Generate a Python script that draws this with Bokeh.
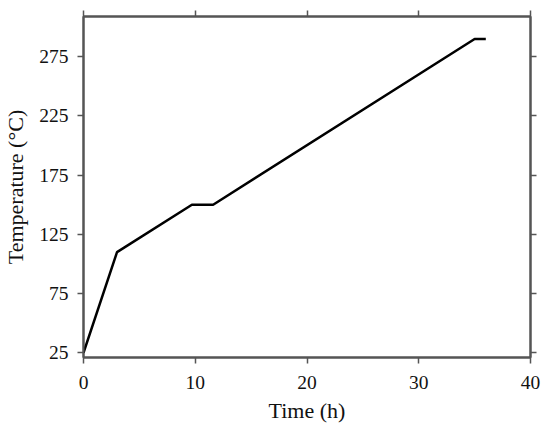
from bokeh.plotting import figure
from bokeh.models import LinearAxis, FixedTicker, Range1d
from bokeh.embed import file_html
from bokeh.resources import INLINE

time_h = [0, 3, 9.7, 11.6, 35, 36]
temp_c = [25, 110, 150, 150, 290, 290]
x_ticks = [0, 10, 20, 30, 40]
y_ticks = [25, 75, 125, 175, 225, 275]

FONT = "Liberation Serif"
AX = "#555555"

p = figure(width=545, height=425, output_backend="svg", toolbar_location=None,
           x_range=Range1d(0, 40), y_range=Range1d(21, 309),
           min_border_left=82, min_border_right=15, min_border_top=16, min_border_bottom=67)
p.grid.visible = False
p.outline_line_color = AX
p.outline_line_width = 2
p.background_fill_color = "white"
p.border_fill_color = "white"

p.line(time_h, temp_c, line_color="black", line_width=2.5)

for ax, ticks in ((p.xaxis[0], x_ticks), (p.yaxis[0], y_ticks)):
    ax.ticker = FixedTicker(ticks=ticks)
    ax.axis_line_color = AX
    ax.axis_line_width = 2
    ax.major_tick_line_color = AX
    ax.major_tick_line_width = 1.5
    ax.major_tick_out = 6
    ax.major_tick_in = 0
    ax.minor_tick_line_color = None
    ax.major_label_text_font = FONT
    ax.major_label_text_font_size = "19.5px"
    ax.major_label_text_color = "#111111"
    ax.axis_label_text_font = FONT
    ax.axis_label_text_font_size = "22px"
    ax.axis_label_text_font_style = "normal"
    ax.axis_label_text_color = "#111111"

p.xaxis.axis_label = "Time (h)"
p.yaxis.axis_label = "Temperature (°C)"
p.xaxis.major_label_standoff = 12
p.yaxis.major_label_standoff = 9
p.xaxis.axis_label_standoff = 6
p.yaxis.axis_label_standoff = 8

for loc, ticks in (("above", x_ticks), ("right", y_ticks)):
    a = LinearAxis(ticker=FixedTicker(ticks=ticks), major_label_text_font_size="0px",
                   major_label_text_color=None,
                   axis_line_color=AX, axis_line_width=2, major_tick_line_color=AX,
                   major_tick_line_width=1.5, major_tick_out=6, major_tick_in=0,
                   minor_tick_line_color=None, major_label_standoff=0)
    p.add_layout(a, loc)

open("out.html", "w").write(file_html(p, INLINE))
